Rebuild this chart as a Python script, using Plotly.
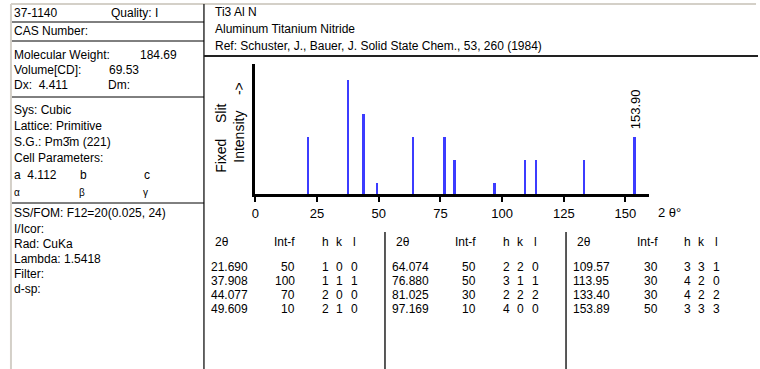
import plotly.graph_objects as go

W, H = 760, 369

# Powder diffraction card: Ti3 Al N (37-1140)
two_theta = [21.690, 37.908, 44.077, 49.609, 64.074, 76.880, 81.025, 97.169,
             109.57, 113.95, 133.40, 153.89]
intensity = [50, 100, 70, 10, 50, 50, 30, 10, 30, 30, 30, 50]
h_idx = [1, 1, 2, 2, 2, 3, 2, 4, 3, 4, 4, 3]
k_idx = [0, 1, 0, 1, 2, 1, 2, 0, 3, 2, 2, 3]
l_idx = [0, 1, 0, 0, 0, 1, 2, 0, 1, 0, 2, 3]
x_ticks = [0, 25, 50, 75, 100, 125, 150]
labelled_peak = 153.90

FONT = "Liberation Sans, Arial, sans-serif"
BAR_BLUE = "#3c3cff"
FRAME_GRAY = "#d4d0c8"


def fx(px):
    return px / W


def fy(py):
    return 1 - py / H


fig = go.Figure()

fig.add_trace(go.Bar(
    x=two_theta, y=intensity, width=0.75,
    marker=dict(color=BAR_BLUE, line=dict(width=0)),
    hoverinfo="x+y",
))

annotations = []
shapes = []


def text(px, py, s, size=12, anchor="left", **kw):
    annotations.append(dict(
        x=fx(px), y=fy(py), xref="paper", yref="paper", text=s,
        showarrow=False, xanchor=anchor, yanchor="middle",
        font=dict(family=FONT, size=size, color="black"), **kw))


def hline(x0, x1, y, color="black", width=1):
    shapes.append(dict(type="line", xref="paper", yref="paper",
                       x0=fx(x0), x1=fx(x1), y0=fy(y), y1=fy(y),
                       line=dict(color=color, width=width)))


def vline(x, y0, y1, color="black", width=1):
    shapes.append(dict(type="line", xref="paper", yref="paper",
                       x0=fx(x), x1=fx(x), y0=fy(y0), y1=fy(y1),
                       line=dict(color=color, width=width)))


# frame
hline(7, 756, 4, FRAME_GRAY, 2)
vline(7, 4, 369, FRAME_GRAY, 2)
vline(201, 4, 369, "#333333", 1.5)
hline(201, 758, 56, "#222222", 2)
for yy in (22, 41, 97, 203):
    hline(8, 201, yy)

# left panel
text(8, 13, "37-1140")
text(106, 13, "Quality: I")
text(8, 31, "CAS Number:")
text(8, 55, "Molecular Weight:")
text(176, 55, "184.69", anchor="right")
text(8, 70, "Volume[CD]:")
text(138, 70, "69.53", anchor="right")
text(8, 85, "Dx:  4.411")
text(103, 85, "Dm:")
text(8, 110, "Sys: Cubic")
text(8, 126, "Lattice: Primitive")
text(8, 142, "S.G.: Pm3\u0304m (221)")
text(8, 158, "Cell Parameters:")
text(8, 175, "a  4.112")
text(74, 175, "b")
text(139, 175, "c")
text(8, 193, "\u03b1", size=10)
text(73, 193, "\u03b2", size=10)
text(138, 193, "\u03b3", size=10)
text(8, 213, "SS/FOM: F12=20(0.025, 24)")
text(8, 229, "I/Icor:")
text(8, 244, "Rad: CuKa")
text(8, 259, "Lambda: 1.5418")
text(8, 274, "Filter:")
text(8, 289, "d-sp:")

# header
text(210, 12, "Ti3 Al N")
text(210, 29, "Aluminum Titanium Nitride")
text(210, 46, "Ref: Schuster, J., Bauer, J. Solid State Chem., 53, 260 (1984)")

# axis titles / labels
text(218, 138, "Fixed&nbsp;&nbsp;&nbsp;&nbsp;Slit", size=14, anchor="center", textangle=-90)
text(236, 122, "Intensity&nbsp;&nbsp;&nbsp;&nbsp;->", size=14, anchor="center", textangle=-90)
text(655, 212, "2 \u03b8\u00b0", size=13)

annotations.append(dict(
    x=labelled_peak, y=intensity[two_theta.index(153.89)], xref="x", yref="y",
    text=f"{labelled_peak:.2f}", showarrow=False, textangle=-90,
    xanchor="center", yanchor="bottom", yshift=6,
    font=dict(family=FONT, size=13, color="black")))

# reflection table
group_left = [201, 383, 565]
for g in range(3):
    x0 = group_left[g]
    if g > 0:
        vline(x0, 232, 369, "#222222", 1.5)
    text(x0 + 9, 242, "2\u03b8")
    text(x0 + 94, 242, "Int-f", anchor="right")
    text(x0 + 122, 242, "h", anchor="center")
    text(x0 + 136, 242, "k", anchor="center")
    text(x0 + 151, 242, "l", anchor="center")
    for r in range(4):
        i = g * 4 + r
        yy = 267 + r * 14
        tt = two_theta[i]
        s = f"{tt:.3f}" if tt < 100 else f"{tt:.2f}"
        text(x0 + 5, yy, s)
        text(x0 + 94, yy, str(intensity[i]), anchor="right")
        text(x0 + 122, yy, str(h_idx[i]), anchor="center")
        text(x0 + 136, yy, str(k_idx[i]), anchor="center")
        text(x0 + 151, yy, str(l_idx[i]), anchor="center")

fig.update_layout(
    width=W, height=H, margin=dict(l=0, r=0, t=0, b=0),
    paper_bgcolor="white", plot_bgcolor="white",
    showlegend=False, bargap=0,
    font=dict(family=FONT, size=12, color="black"),
    xaxis=dict(domain=[fx(252.7), fx(648.3)], range=[0, 159.5],
               showgrid=False, zeroline=False, showline=True,
               linecolor="black", linewidth=3,
               tickmode="array", tickvals=x_ticks,
               ticks="outside", ticklen=5, tickwidth=2, tickcolor="black",
               tickfont=dict(family=FONT, size=13, color="black"),
               anchor="y", fixedrange=True),
    yaxis=dict(domain=[fy(194.3), fy(64.3)], range=[0, 113.7],
               showgrid=False, zeroline=False, showline=True,
               linecolor="black", linewidth=3, showticklabels=False,
               ticks="", anchor="x", fixedrange=True),
    annotations=annotations, shapes=shapes,
)

fig.write_html("out.html")
